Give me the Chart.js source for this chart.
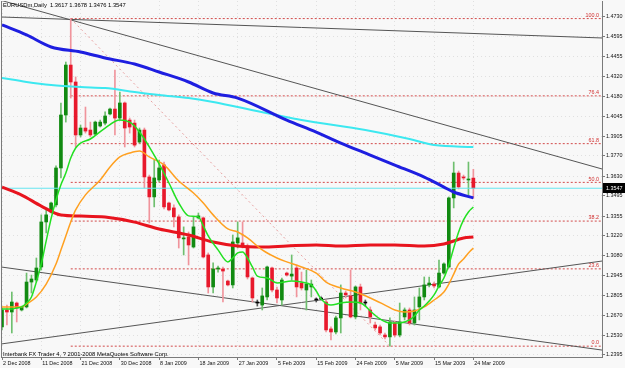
<!DOCTYPE html>
<html><head><meta charset="utf-8">
<script src="https://cdn.jsdelivr.net/npm/chart.js@4.4.1/dist/chart.umd.min.js"></script>
<style>html,body{margin:0;padding:0;background:#F8F8F8;}canvas{display:block;}</style>
</head><body>
<canvas id="c" width="625" height="368"></canvas>
<script>
// ---------- DATA ----------
const symbolTitle = 'EURUSDm,Daily  1.3617 1.3678 1.3476 1.3547';
const footerText = 'Interbank FX Trader 4, ? 2001-2008 MetaQuotes Software Corp.';
const xTickIdx = [0,8,16,24,32,40,48,56,64,72,80,88,96];
const xTickLabels = ['2 Dec 2008','11 Dec 2008','21 Dec 2008','30 Dec 2008','8 Jan 2009','18 Jan 2009','27 Jan 2009','5 Feb 2009','15 Feb 2009','24 Feb 2009','5 Mar 2009','15 Mar 2009','24 Mar 2009'];
const yTickValues = [1.4730,1.4595,1.4455,1.4320,1.4180,1.4045,1.3905,1.3770,1.3630,1.3495,1.3355,1.3220,1.3080,1.2945,1.2805,1.2670,1.2530,1.2395];

const opens = [1.2589,1.2706,1.2692,1.2754,1.2706,1.2727,1.2899,1.2913,1.3003,1.3314,
1.3383,1.3432,1.3687,1.4053,1.4398,1.4281,1.3915,1.3963,1.3949,1.3921,
1.3977,1.3997,1.4060,1.4094,1.4032,1.4136,1.4018,1.3997,1.3866,1.3949,
1.3625,1.3487,1.3604,1.3708,1.3445,1.3411,1.3349,1.3197,1.3211,1.3141,
1.3342,1.3342,1.3086,1.2865,1.2989,1.2989,1.2906,1.2879,1.3169,1.3169,
1.3148,1.2927,1.2754,1.2740,1.2796,1.2996,1.2844,1.2775,1.2961,1.2940,
1.2996,1.2892,1.2844,1.2865,1.2775,1.2782,1.2761,1.2575,1.2554,1.2651,
1.2823,1.2803,1.2658,1.2865,1.2754,1.2706,1.2602,1.2589,1.2533,1.2520,
1.2616,1.2533,1.2658,1.2706,1.2616,1.2727,1.2796,1.2879,1.2885,1.2865,
1.2961,1.3003,1.3480,1.3652,1.3625,1.3604,1.3617];
const highs = [1.2720,1.2740,1.2830,1.2761,1.2733,1.2961,1.2947,1.3065,1.3363,1.3397,
1.3452,1.3701,1.4136,1.4419,1.4719,1.4316,1.3984,1.4108,1.4004,1.4011,
1.4018,1.4074,1.4101,1.4364,1.4212,1.4143,1.4032,1.4018,1.3963,1.3963,
1.3638,1.3742,1.3742,1.3728,1.3452,1.3432,1.3363,1.3280,1.3245,1.3349,
1.3376,1.3349,1.3100,1.3031,1.3010,1.3003,1.2913,1.3224,1.3314,1.3314,
1.3162,1.2934,1.2775,1.2858,1.3010,1.3003,1.2865,1.2927,1.2968,1.3086,
1.3017,1.2968,1.2982,1.2913,1.2789,1.2796,1.2775,1.2589,1.2664,1.2879,
1.2837,1.2982,1.2872,1.2885,1.2775,1.2727,1.2623,1.2602,1.2547,1.2651,
1.2630,1.2754,1.2720,1.2720,1.2796,1.2858,1.2934,1.2934,1.2899,1.3051,
1.3031,1.3487,1.3728,1.3666,1.3638,1.3728,1.3678];
const lows = [1.2568,1.2602,1.2547,1.2623,1.2699,1.2720,1.2823,1.2899,1.2982,1.3238,
1.3376,1.3418,1.3618,1.4004,1.4170,1.3832,1.3901,1.3928,1.3901,1.3915,
1.3970,1.3984,1.4053,1.3915,1.4018,1.3832,1.3928,1.3832,1.3859,1.3549,
1.3307,1.3418,1.3590,1.3404,1.3390,1.3280,1.3134,1.3086,1.3017,1.3134,
1.3335,1.3065,1.2823,1.2823,1.2968,1.2761,1.2872,1.2858,1.3134,1.3134,
1.2920,1.2761,1.2733,1.2706,1.2775,1.2830,1.2754,1.2740,1.2940,1.2913,
1.2796,1.2844,1.2706,1.2796,1.2761,1.2775,1.2554,1.2499,1.2540,1.2547,
1.2789,1.2651,1.2644,1.2706,1.2733,1.2616,1.2568,1.2533,1.2506,1.2456,
1.2520,1.2520,1.2637,1.2602,1.2602,1.2637,1.2775,1.2865,1.2858,1.2858,
1.2954,1.2996,1.3411,1.3542,1.3604,1.3501,1.3476];
const closes = [1.2706,1.2692,1.2761,1.2720,1.2727,1.2899,1.2920,1.2996,1.3314,1.3363,
1.3445,1.3687,1.4053,1.4398,1.4281,1.3915,1.3963,1.3942,1.3915,1.4004,
1.4004,1.4046,1.4094,1.4032,1.4136,1.3963,1.3970,1.3845,1.3949,1.3625,
1.3487,1.3618,1.3687,1.3418,1.3397,1.3349,1.3204,1.3204,1.3155,1.3280,
1.3356,1.3072,1.2865,1.2989,1.2996,1.2975,1.2879,1.3176,1.3204,1.3148,
1.2934,1.2789,1.2754,1.2803,1.3003,1.2844,1.2789,1.2913,1.2947,1.2954,
1.2865,1.2858,1.2885,1.2885,1.2775,1.2782,1.2568,1.2554,1.2651,1.2823,
1.2810,1.2658,1.2865,1.2754,1.2754,1.2658,1.2582,1.2547,1.2520,1.2623,
1.2533,1.2623,1.2706,1.2616,1.2706,1.2796,1.2879,1.2892,1.2872,1.2961,
1.3024,1.3480,1.3652,1.3556,1.3618,1.3608,1.3547];

// moving averages (bar index, price)
const maBlueIdx = [0,5,10,16,21,27,32,38,43,48,58,64,69,75,80,86,90,92,96];
const maBlueVal = [1.4675,1.4606,1.4523,1.4488,1.4447,1.4405,1.4350,1.4281,1.4205,1.4170,1.4018,1.3935,1.3859,1.3776,1.3707,1.3624,1.3555,1.3521,1.3480];
const maCyanIdx = [0,5,10,16,21,27,32,38,43,48,61,74,83,88,96];
const maCyanVal = [1.4309,1.4281,1.4260,1.4246,1.4239,1.4212,1.4191,1.4170,1.4143,1.4108,1.4018,1.3949,1.3887,1.3845,1.3832];
const maRedIdx = [0,4,8,12,16,21,27,32,38,43,48,53,58,64,69,75,80,86,90,94,96];
const maRedVal = [1.3555,1.3500,1.3424,1.3362,1.3355,1.3348,1.3313,1.3265,1.3224,1.3175,1.3148,1.3141,1.3148,1.3155,1.3148,1.3155,1.3155,1.3148,1.3162,1.3203,1.3210];
const maGreenIdx = [0,2,3,4,5,6,7,8,9,10,11,12,13,14,15,16,18,21,24,26,27,28,29,30,32,34,36,38,40,41,42,44,46,47,48,49,50,51,52,54,56,59,61,63,64,65,67,69,71,73,74,75,77,79,81,83,84,85,86,87,88,89,90,91,92,93,94,95,96];
const maGreenVal = [1.2713,1.2713,1.2720,1.2727,1.2754,1.2796,1.2900,1.3024,1.3183,1.3338,1.3466,1.3571,1.3652,1.3756,1.3825,1.3859,1.3887,1.3963,1.4018,1.4004,1.3977,1.3935,1.3887,1.3832,1.3715,1.3583,1.3445,1.3356,1.3349,1.3287,1.3218,1.3121,1.3038,1.3065,1.3100,1.3107,1.3065,1.3003,1.2940,1.2927,1.2892,1.2906,1.2899,1.2879,1.2837,1.2782,1.2740,1.2754,1.2761,1.2754,1.2733,1.2699,1.2644,1.2616,1.2616,1.2637,1.2664,1.2706,1.2733,1.2768,1.2810,1.2872,1.2927,1.3017,1.3134,1.3245,1.3328,1.3383,1.3418];
const maOrangeIdx = [0,4,5,7,9,11,12,13,14,15,17,20,22,24,26,28,30,33,36,39,41,43,46,48,50,53,56,58,61,64,66,69,72,75,78,80,82,84,86,88,90,91,92,93,94,95,96];
const maOrangeVal = [1.2727,1.2727,1.2747,1.2796,1.2885,1.3024,1.3120,1.3217,1.3314,1.3397,1.3501,1.3604,1.3694,1.3763,1.3790,1.3804,1.3763,1.3708,1.3597,1.3514,1.3445,1.3363,1.3266,1.3245,1.3204,1.3121,1.3065,1.3038,1.3003,1.2961,1.2899,1.2858,1.2830,1.2789,1.2740,1.2706,1.2692,1.2699,1.2727,1.2775,1.2830,1.2885,1.2954,1.3024,1.3058,1.3100,1.3134];

// trend lines (bar index, price) endpoints
const trendLineA = [[-0.2,1.4845],[122.2,1.3680]];
const trendLineB = [[-0.2,1.4730],[122.2,1.4585]];
const trendLineC = [[-0.2,1.3003],[122.2,1.2429]];
const trendLineD = [[-0.2,1.2471],[122.2,1.3044]];

// fibonacci retracement
const fibLevels = [1.4719,1.4185,1.3855,1.35875,1.3320,1.2990,1.2456];
const fibLabels = ['100.0','76.4','61.8','50.0','38.2','23.6','0.0'];
const fibFromIdx = 14, fibToIdx = 79;
const lastPrice = 1.3547;

// ---------- CHART ----------
const X_MIN = -0.2037, X_MAX = 122.2;
const Y_MIN = 1.23811, Y_MAX = 1.48405;
const GREEN = '#118A11', RED = '#E8192C';
const pts = (ix, vals) => ix.map((x, k) => ({x, y: vals[k]}));
const seg = (a) => a.map(p => ({x: p[0], y: p[1]}));

const isDoji = i => Math.abs(closes[i] - opens[i]) < 0.00005;
const bodyCol = i => isDoji(i) ? '#000000' : (closes[i] > opens[i] ? GREEN : RED);
const wickCol = i => isDoji(i) ? '#555555' : (closes[i] > opens[i] ? '#6FBF6F' : '#F0949C');

const lineDs = (data, color, width, order, extra) => Object.assign({
  type: 'line', data, borderColor: color, borderWidth: width, pointRadius: 0,
  fill: false, order, clip: 0, cubicInterpolationMode: 'monotone'
}, extra || {});

const datasets = [];
fibLevels.forEach(v => datasets.push(lineDs([{x: fibFromIdx, y: v}, {x: X_MAX, y: v}], '#D24A4A', 1, 200, {borderDash: [2, 2]})));
datasets.push(lineDs([{x: fibFromIdx, y: fibLevels[0]}, {x: fibToIdx, y: fibLevels[6]}], '#E8A0A0', 1, 199, {borderDash: [2, 3]}));
[trendLineA, trendLineB, trendLineC, trendLineD].forEach(t => datasets.push(lineDs(seg(t), '#555555', 1, 150)));
datasets.push({type: 'bar', data: highs.map((h, i) => ({x: i, y: [lows[i], h]})), backgroundColor: highs.map((h, i) => wickCol(i)), barThickness: 1, grouped: false, order: 120, borderWidth: 0});
datasets.push({type: 'bar', data: opens.map((o, i) => ({x: i, y: [o, closes[i]]})), backgroundColor: opens.map((o, i) => bodyCol(i)), barThickness: 3, grouped: false, order: 110, borderWidth: 0, minBarLength: 1});
datasets.push(lineDs([{x: X_MIN, y: lastPrice}, {x: X_MAX, y: lastPrice}], '#66E6F0', 1, 100));
datasets.push(lineDs(pts(maRedIdx, maRedVal), '#E8141E', 3, 50));
datasets.push(lineDs(pts(maCyanIdx, maCyanVal), '#3CE8F0', 2, 45));
datasets.push(lineDs(pts(maBlueIdx, maBlueVal), '#1E1EE0', 3, 40));
datasets.push(lineDs(pts(maOrangeIdx, maOrangeVal), '#FFA020', 1.5, 30));
datasets.push(lineDs(pts(maGreenIdx, maGreenVal), '#22E022', 1.5, 20));

const FONT = 'Liberation Sans';
const overlay = {
  id: 'overlay',
  beforeDraw(chart) {
    const c = chart.ctx;
    c.save(); c.fillStyle = '#F8F8F8'; c.fillRect(0, 0, chart.width, chart.height); c.restore();
  },
  afterDraw(chart) {
    const c = chart.ctx, a = chart.chartArea, ys = chart.scales.y;
    c.save();
    c.strokeStyle = '#7A7A7A'; c.lineWidth = 1;
    c.beginPath(); c.moveTo(a.left + 0.5, a.top); c.lineTo(a.left + 0.5, a.bottom); c.stroke();
    c.font = '5.4px "' + FONT + '"'; c.fillStyle = '#D23030'; c.textAlign = 'right'; c.textBaseline = 'bottom';
    fibLevels.forEach((v, k) => c.fillText(fibLabels[k], a.right - 3, ys.getPixelForValue(v) - 0.5));
    c.font = '5.8px "' + FONT + '"'; c.fillStyle = '#000'; c.textAlign = 'left'; c.textBaseline = 'top';
    c.fillText(symbolTitle, 3, 2.5);
    c.textBaseline = 'alphabetic';
    c.fillText(footerText, 3, 355.5);
    const py = Math.round(ys.getPixelForValue(lastPrice));
    c.fillStyle = '#000'; c.fillRect(a.right + 1, py - 5, chart.width - a.right - 1, 10);
    c.fillStyle = '#FFF'; c.font = '5.4px "' + FONT + '"'; c.textBaseline = 'middle';
    c.fillText(lastPrice.toFixed(4), a.right + 4, py + 0.5);
    c.restore();
  }
};

new Chart(document.getElementById('c'), {
  type: 'bar',
  data: {datasets},
  options: {
    responsive: false, animation: false, devicePixelRatio: 1,
    layout: {padding: {left: 1, top: 1, right: 0, bottom: 0}},
    plugins: {legend: {display: false}, tooltip: {enabled: false}, title: {display: false}},
    scales: {
      x: {
        type: 'linear', position: 'bottom', min: X_MIN, max: X_MAX, offset: false,
        afterBuildTicks: s => { s.ticks = xTickIdx.map(v => ({value: v})); },
        afterFit: s => { s.height = 11; s.paddingLeft = 0; s.paddingRight = 0; },
        ticks: {align: 'start', autoSkip: false, maxRotation: 0, minRotation: 0, padding: 0, labelOffset: 1,
          font: {family: FONT, size: 5.4}, color: '#111', callback: (v, i) => xTickLabels[i]},
        grid: {offset: false, color: '#E0E0E0', tickLength: 3, tickColor: '#7A7A7A'},
        border: {display: true, color: '#7A7A7A', dash: [1, 3]}
      },
      y: {
        type: 'linear', position: 'right', min: Y_MIN, max: Y_MAX,
        afterBuildTicks: s => { s.ticks = yTickValues.map(v => ({value: v})); },
        afterFit: s => { s.width = 23; s.paddingTop = 0; s.paddingBottom = 0; },
        ticks: {autoSkip: false, padding: 1, font: {family: FONT, size: 5.4}, color: '#111', callback: v => v.toFixed(4)},
        grid: {color: '#E0E0E0', tickLength: 3, tickColor: '#7A7A7A'},
        border: {display: true, color: '#7A7A7A', dash: [1, 3]}
      }
    }
  },
  plugins: [overlay]
});
</script>
</body></html>
